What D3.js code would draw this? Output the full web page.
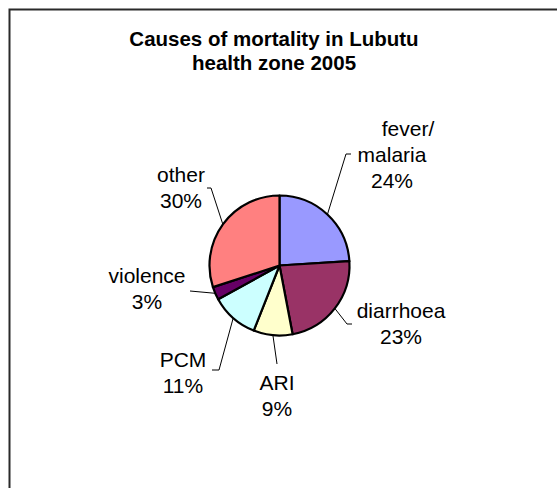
<!DOCTYPE html>
<html>
<head>
<meta charset="utf-8">
<script src="https://cdn.jsdelivr.net/npm/d3@7"></script>
<style>
  html, body { margin: 0; padding: 0; background: #fff; overflow: hidden; }
  svg { display: block; }
  text { font-family: "Liberation Sans", Arial, sans-serif; fill: #000; }
</style>
</head>
<body>
<div id="chart"></div>
<script>
// Causes of death, share of all deaths (%)
const causes = ["fever/ malaria", "diarrhoea", "ARI", "PCM", "violence", "other"];
const shares = [24, 23, 9, 11, 3, 30];
const sliceColors = ["#9999FF", "#993366", "#FFFFCC", "#CCFFFF", "#660066", "#FF8080"];
const titleLines = ["Causes of mortality in Lubutu", "health zone 2005"];

const W = 557, H = 488;
const cx = 279.5, cy = 265.5, R = 70;

// Label placement: text centre x, first baseline y, bend points of the leader line
const labelLayout = [
  { x: 392, y: 136, firstDx: 16, bend: [[346, 154], [351, 154]] },
  { x: 401, y: 318, firstDx: 0,  bend: [[347, 324], [352, 324]] },
  { x: 277, y: 390, firstDx: 0,  bend: [[277, 364]] },
  { x: 183, y: 367, firstDx: 0,  bend: [[219, 370], [212, 370]] },
  { x: 147, y: 283, firstDx: 0,  bend: [[190, 291]] },
  { x: 181, y: 182, firstDx: 0,  bend: [[211, 188], [207, 188]] }
];
const lineGap = 26;

const svg = d3.select("#chart").append("svg")
  .attr("width", W).attr("height", H);

// chart area frame
svg.append("rect")
  .attr("x", 9.5).attr("y", 9.5)
  .attr("width", W + 20).attr("height", H + 20)
  .attr("fill", "#fff").attr("stroke", "#2a2a2a").attr("stroke-width", 2);

// title
svg.append("text")
  .attr("text-anchor", "middle")
  .style("font-weight", "bold").style("font-size", "20.5px")
  .selectAll("tspan").data(titleLines).join("tspan")
  .attr("x", 274).attr("y", (d, i) => 46 + i * 23.5)
  .text(d => d);

const data = causes.map((c, i) => ({ cause: c, value: shares[i], color: sliceColors[i], layout: labelLayout[i] }));

const pie = d3.pie().value(d => d.value).sort(null);
const arc = d3.arc().innerRadius(0).outerRadius(R);
const arcs = pie(data);

const g = svg.append("g").attr("transform", `translate(${cx},${cy})`);
g.selectAll("path").data(arcs).join("path")
  .attr("d", arc)
  .attr("fill", d => d.data.color)
  .attr("stroke", "#000").attr("stroke-width", 2.2)
  .attr("stroke-linejoin", "round");

// leader lines from the slice edge at its mid-angle
const line = d3.line();
svg.selectAll("path.leader").data(arcs).join("path")
  .attr("class", "leader")
  .attr("d", d => {
    const a = (d.startAngle + d.endAngle) / 2;
    const start = [cx + R * Math.sin(a), cy - R * Math.cos(a)];
    return line([start, ...d.data.layout.bend]);
  })
  .attr("fill", "none").attr("stroke", "#000").attr("stroke-width", 1);

// data labels: category name lines plus percentage
const pct = d3.format(".0%");
const total = d3.sum(shares);
const labels = svg.selectAll("text.lbl").data(arcs).join("text")
  .attr("class", "lbl")
  .attr("text-anchor", "middle")
  .style("font-size", "21px");
labels.each(function (d) {
  const lines = d.data.cause.split(" ").concat([pct(d.data.value / total)]);
  const L = d.data.layout;
  d3.select(this).selectAll("tspan").data(lines).join("tspan")
    .attr("x", (t, i) => L.x + (i === 0 ? L.firstDx : 0))
    .attr("y", (t, i) => L.y + i * lineGap)
    .text(t => t);
});
</script>
</body>
</html>
